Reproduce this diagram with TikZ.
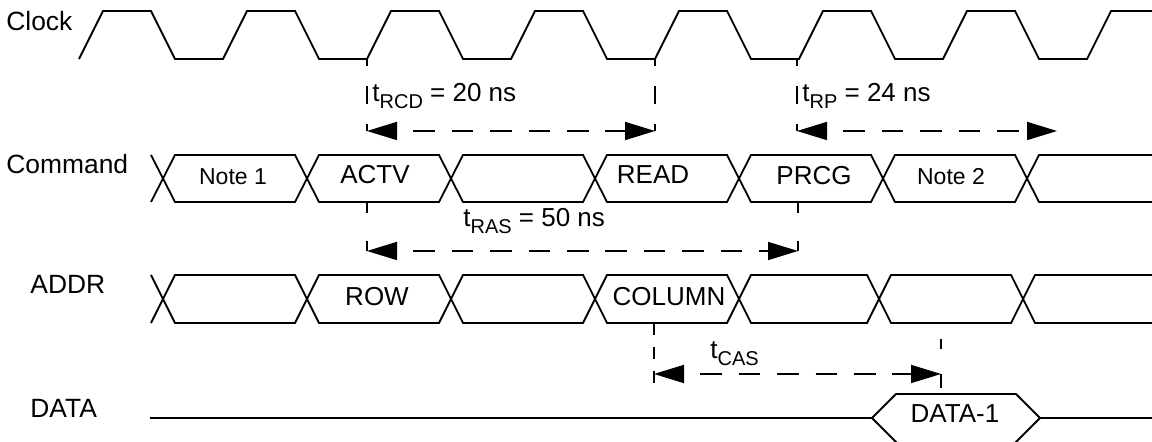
\documentclass[tikz,border=0pt]{standalone}
\usepackage{fontspec}
\setmainfont{Liberation Sans}
\usetikzlibrary{arrows.meta}
\newcommand{\tsub}[1]{\raisebox{-3.2pt}{\fontsize{10pt}{12pt}\selectfont #1}}

\begin{document}
\begin{tikzpicture}[x=0.5pt,y=-0.5pt,
    wave/.style={line width=0.9pt},
    rowlabel/.style={anchor=base west, inner sep=0pt, font=\fontsize{13.2pt}{15pt}\selectfont},
    buslabel/.style={anchor=base, inner sep=0pt, font=\fontsize{13pt}{15pt}\selectfont},
    notelabel/.style={anchor=base, inner sep=0pt, font=\fontsize{11.5pt}{14pt}\selectfont},
    timelabel/.style={anchor=base west, inner sep=0pt, font=\fontsize{13pt}{15pt}\selectfont},
    tickline/.style={line width=0.9pt, dash pattern=on 9pt off 10pt, dash phase=5.5pt},
    spanarrow/.style={line width=0.9pt, dash pattern=on 10.8pt off 8.4pt, dash phase=10.8pt,
        {Triangle[length=15pt,width=9pt]}-{Triangle[length=15pt,width=9pt]}}]
    \useasboundingbox (0,0) rectangle (1152,442);

    % Clock
    \draw[wave] (79,59) -- (103,11) -- (151,11) -- (175,59) -- (223,59) -- (247,11) -- (295,11) -- (319,59)
        -- (367,59) -- (391,11) -- (439,11) -- (463,59) -- (511,59) -- (535,11) -- (583,11) -- (607,59)
        -- (655,59) -- (679,11) -- (727,11) -- (751,59) -- (799,59) -- (823,11) -- (871,11) -- (895,59)
        -- (943,59) -- (967,11) -- (1015,11) -- (1039,59) -- (1087,59) -- (1111,11) -- (1153,11);

    % Command bus
    \draw[wave] (151,155) -- (175,202) -- (295,202) -- (319,155) -- (439,155) -- (463,202) -- (583,202) -- (607,155)
        -- (727,155) -- (751,202) -- (871,202) -- (895,155) -- (1015,155) -- (1039,202) -- (1153,202);
    \draw[wave] (151,202) -- (175,155) -- (295,155) -- (319,202) -- (439,202) -- (463,155) -- (583,155) -- (607,202)
        -- (727,202) -- (751,155) -- (871,155) -- (895,202) -- (1015,202) -- (1039,155) -- (1153,155);

    % ADDR bus
    \draw[wave] (151,275) -- (175,323) -- (295,323) -- (319,275) -- (439,275) -- (463,323) -- (583,323) -- (607,275)
        -- (727,275) -- (751,323) -- (867,323) -- (891,275) -- (1011,275) -- (1035,323) -- (1153,323);
    \draw[wave] (151,323) -- (175,275) -- (295,275) -- (319,323) -- (439,323) -- (463,275) -- (583,275) -- (607,323)
        -- (727,323) -- (751,275) -- (867,275) -- (891,323) -- (1011,323) -- (1035,275) -- (1153,275);

    % DATA
    \draw[wave] (150,418) -- (872,418) -- (896,394) -- (1016,394) -- (1040,418) -- (1153,418);
    \draw[wave] (872,418) -- (900,446) -- (1012,446) -- (1040,418);

    % Labels
    \node[rowlabel] (clk) at (6,31) {Clock};
    \node[rowlabel] (cmd) at (6,174) {Command};
    \node[rowlabel] (addr) at (30,294) {ADDR};
    \node[rowlabel] (data) at (30,418) {DATA};

    \node[notelabel] (note1) at (233,185) {Note 1};
    \node[buslabel] (actv) at (375,184) {ACTV};
    \node[buslabel] (read) at (653,184) {READ};
    \node[buslabel] (prcg) at (814,185) {PRCG};
    \node[notelabel] (note2) at (951,185) {Note 2};
    \node[buslabel] (row) at (377,305.5) {ROW};
    \node[buslabel] (column) at (669,306) {COLUMN};
    \node[buslabel] (data1) at (955,423) {DATA-1};

    \node[timelabel] (trcd) at (372,102) {t\tsub{RCD} = 20 ns};
    \node[timelabel] (trp) at (802,102) {t\tsub{RP} = 24 ns};
    \node[timelabel] (tras) at (463,227) {t\tsub{RAS} = 50 ns};
    \node[timelabel] (tcas) at (710,359) {t\tsub{CAS}};

    % Timing marks
    \coordinate (actvclk) at (367,59);
    \coordinate (rcdL) at (367,131);
    \coordinate (readclk) at (655,59);
    \coordinate (rcdR) at (655,131);
    \coordinate (prcgclk) at (797,59);
    \coordinate (rpL) at (797,131);
    \coordinate (rpR) at (1057,131);
    \coordinate (actvcmd) at (367,202);
    \coordinate (rasL) at (367,251);
    \coordinate (prcgcmd) at (798,202);
    \coordinate (rasR) at (798,251);
    \coordinate (coltop) at (654,323);
    \coordinate (colbot) at (654,384);
    \coordinate (casL) at (654,374);
    \coordinate (dattop) at (941,339);
    \coordinate (datbot) at (941,388);
    \coordinate (casR) at (941,374);

    \draw[tickline] (actvclk) -- (rcdL);
    \draw[tickline] (readclk) -- (rcdR);
    \draw[tickline] (prcgclk) -- (rpL);
    \draw[line width=0.9pt, dash pattern=on 5.5pt off 14pt] (actvcmd) -- (rasL);
    \draw[line width=0.9pt, dash pattern=on 5.5pt off 14pt] (prcgcmd) -- (rasR);
    \draw[line width=0.9pt, dash pattern=on 6pt off 6pt] (coltop) -- (colbot);
    \draw[line width=0.9pt, dash pattern=on 5pt off 12.5pt on 7pt off 5pt] (dattop) -- (datbot);

    % Arrows
    \draw[spanarrow] (rcdL) -- (rcdR);
    \draw[spanarrow] (rpL) -- (rpR);
    \draw[spanarrow] (rasL) -- (rasR);
    \draw[spanarrow] (casL) -- (casR);
\end{tikzpicture}
\end{document}
